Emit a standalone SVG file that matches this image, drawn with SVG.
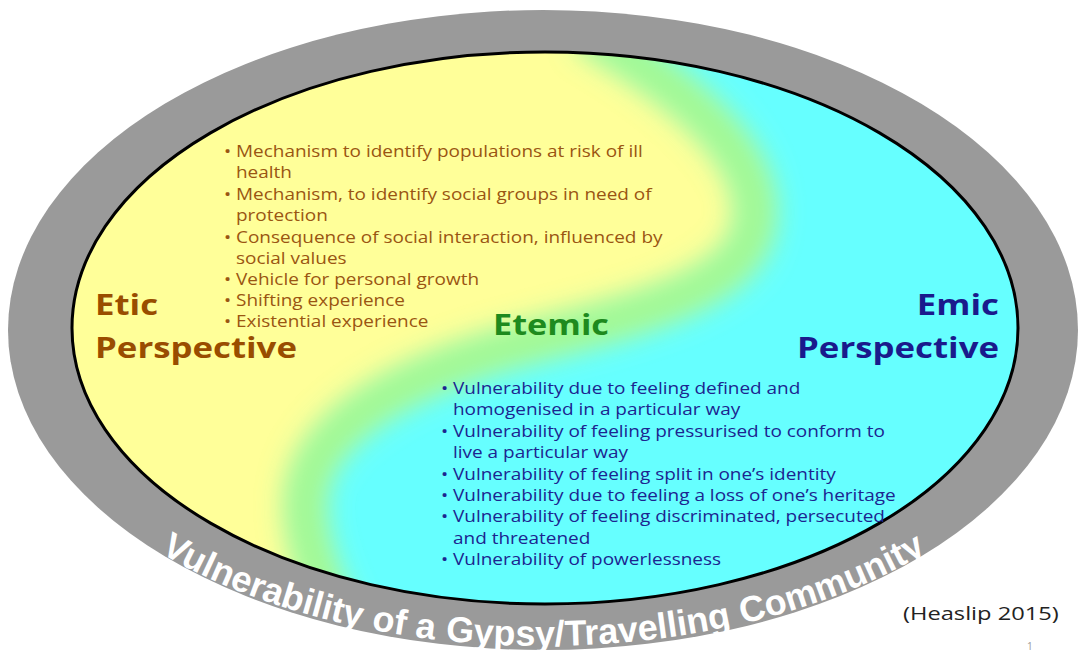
<svg xmlns="http://www.w3.org/2000/svg" width="1078" height="655" viewBox="0 0 1078 655">
<defs>
<style>
.etic{font-family:"Open Sans","Liberation Sans",sans-serif;font-size:16.5px;fill:#9A5512;}
.emic{font-family:"Open Sans","Liberation Sans",sans-serif;font-size:16.5px;fill:#1C2590;}
.title{font-family:"Open Sans","Liberation Sans",sans-serif;font-weight:bold;font-size:29px;}
.ring{font-family:"Liberation Sans",Arial,sans-serif;font-weight:bold;font-size:36px;fill:#ffffff;}
</style>
<clipPath id="inner"><ellipse cx="545" cy="328" rx="473" ry="276"/></clipPath>
<filter id="blurBig" filterUnits="userSpaceOnUse" x="0" y="0" width="1078" height="655"><feGaussianBlur stdDeviation="20"/></filter>
<filter id="blurMid" filterUnits="userSpaceOnUse" x="0" y="0" width="1078" height="655"><feGaussianBlur stdDeviation="14"/></filter>
<path id="ringPath" d="M 3,330 A 540 316 0 0 0 1083,330"/>
</defs>
<rect width="1078" height="655" fill="#ffffff"/>
<g id="outer-ring">
<ellipse cx="543" cy="330" rx="535" ry="320" fill="#9A9A9A"/>
</g>
<g id="background" clip-path="url(#inner)">
<rect x="0" y="0" width="1078" height="655" fill="#FFFF99"/>
<path d="M 585,30 C 680,85 775,160 752,235 C 730,300 600,322 500,350 C 380,385 300,440 305,510 C 308,570 340,620 360,670 L 1078,670 L 1078,0 L 585,0 Z" fill="#66FFFF" filter="url(#blurBig)"/>
<path d="M 585,30 C 680,85 775,160 752,235 C 730,300 600,322 500,350 C 380,385 300,440 305,510 C 308,570 340,620 360,670" fill="none" stroke="#A0F890" stroke-width="38" filter="url(#blurMid)"/>
</g>
<ellipse cx="545" cy="328" rx="473" ry="276" fill="none" stroke="#000000" stroke-width="3"/>
<g id="ring-label">
<text class="ring"><textPath href="#ringPath" startOffset="28.72%" text-anchor="middle">Vulnerability</textPath></text>
<text class="ring"><textPath href="#ringPath" startOffset="38.59%" text-anchor="middle">of</textPath></text>
<text class="ring"><textPath href="#ringPath" startOffset="41.30%" text-anchor="middle">a</textPath></text>
<text class="ring"><textPath href="#ringPath" startOffset="53.37%" text-anchor="middle">Gypsy/Travelling</textPath></text>
<text class="ring"><textPath href="#ringPath" startOffset="71.94%" text-anchor="middle">Community</textPath></text>
</g>
<g id="etic-title" transform="translate(95,0) scale(1.2,1) translate(-95,0)">
<text class="title" fill="#994D00" x="95" y="315">Etic</text>
<text class="title" fill="#994D00" x="95" y="358">Perspective</text>
</g>
<g id="emic-title" transform="translate(999,0) scale(1.2,1) translate(-999,0)">
<text class="title" fill="#1A1A8C" x="999" y="315" text-anchor="end">Emic</text>
<text class="title" fill="#1A1A8C" x="999" y="358" text-anchor="end">Perspective</text>
</g>
<g id="etemic" transform="translate(551,0) scale(1.18,1) translate(-551,0)">
<text class="title" fill="#1E8A1E" x="551" y="335" text-anchor="middle" font-size="30">Etemic</text>
</g>
<g id="etic-list" transform="translate(236,0) scale(1.15,1) translate(-236,0)">
<text class="etic" y="157"><tspan x="225.5">•</tspan><tspan x="236">Mechanism to identify populations at risk of ill</tspan></text>
<text class="etic" x="236" y="178">health</text>
<text class="etic" y="200"><tspan x="225.5">•</tspan><tspan x="236">Mechanism, to identify social groups in need of</tspan></text>
<text class="etic" x="236" y="221">protection</text>
<text class="etic" y="243"><tspan x="225.5">•</tspan><tspan x="236">Consequence  of social interaction, influenced by</tspan></text>
<text class="etic" x="236" y="264">social values</text>
<text class="etic" y="285"><tspan x="225.5">•</tspan><tspan x="236">Vehicle for personal growth</tspan></text>
<text class="etic" y="306"><tspan x="225.5">•</tspan><tspan x="236">Shifting experience</tspan></text>
<text class="etic" y="327"><tspan x="225.5">•</tspan><tspan x="236">Existential experience</tspan></text>
</g>
<g id="emic-list" transform="translate(453,0) scale(1.15,1) translate(-453,0)">
<text class="emic" y="394"><tspan x="442.5">•</tspan><tspan x="453">Vulnerability due to feeling defined and</tspan></text>
<text class="emic" x="453" y="415">homogenised in a particular way</text>
<text class="emic" y="437"><tspan x="442.5">•</tspan><tspan x="453">Vulnerability of feeling pressurised to conform to</tspan></text>
<text class="emic" x="453" y="458">live a particular way</text>
<text class="emic" y="480"><tspan x="442.5">•</tspan><tspan x="453">Vulnerability of feeling split in one’s identity</tspan></text>
<text class="emic" y="501"><tspan x="442.5">•</tspan><tspan x="453">Vulnerability due to feeling a loss of one’s heritage</tspan></text>
<text class="emic" y="522"><tspan x="442.5">•</tspan><tspan x="453">Vulnerability of feeling discriminated, persecuted</tspan></text>
<text class="emic" x="453" y="544">and threatened</text>
<text class="emic" y="565"><tspan x="442.5">•</tspan><tspan x="453">Vulnerability of powerlessness</tspan></text>
</g>
<g id="citation">
<text x="903" y="620" transform="translate(903,0) scale(1.28,1) translate(-903,0)" font-family="Open Sans, Liberation Sans, sans-serif" font-size="18.5" fill="#222222">(Heaslip 2015)</text>
<text x="1027" y="650" font-family="Open Sans, Liberation Sans, sans-serif" font-size="10" fill="#999999">1</text>
</g>
</svg>
